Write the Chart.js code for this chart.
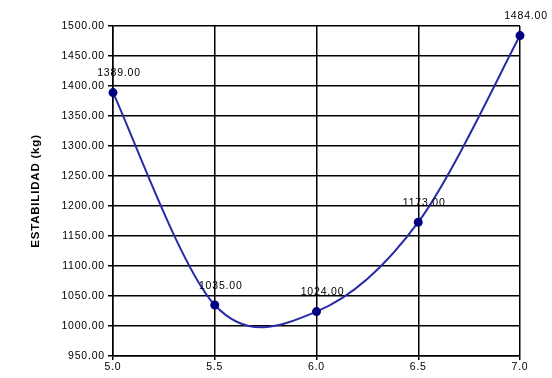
<!DOCTYPE html>
<html>
<head>
<meta charset="utf-8">
<script src="https://cdn.jsdelivr.net/npm/chart.js@4"></script>
<style>
  html, body { margin: 0; padding: 0; background: #fff; }
  #wrap { width: 552px; height: 378px; }
</style>
</head>
<body>
<div id="wrap"><canvas id="chart" width="552" height="378"></canvas></div>
<script>
// datos
const asfalto = [5.0, 5.5, 6.0, 6.5, 7.0];
const estabilidad = [1389, 1035, 1024, 1173, 1484];
const yTitulo = "ESTABILIDAD (kg)";

const fuente = "'Liberation Sans', Arial, sans-serif";

// curva suavizada tipo Excel (Catmull-Rom) sobre los puntos ya ubicados por las escalas
const suavizado = {
  id: "suavizado",
  beforeDraw(chart) {
    // el texto del original sale algo espaciado
    chart.ctx.letterSpacing = "0.8px";
  },
  beforeDatasetDraw(chart, args) {
    const meta = args.meta;
    meta.dataset.updateControlPoints(chart.chartArea);
    const pts = meta.data;
    const n = pts.length;
    for (let i = 0; i < n; i++) {
      const prev = pts[Math.max(i - 1, 0)];
      const next = pts[Math.min(i + 1, n - 1)];
      const dx = (next.x - prev.x) / 6;
      const dy = (next.y - prev.y) / 6;
      pts[i].cp1x = pts[i].x - dx;
      pts[i].cp1y = pts[i].y - dy;
      pts[i].cp2x = pts[i].x + dx;
      pts[i].cp2y = pts[i].y + dy;
    }
  }
};

// etiquetas encima de cada punto
const etiquetas = {
  id: "etiquetas",
  afterDatasetsDraw(chart) {
    const ctx = chart.ctx;
    const meta = chart.getDatasetMeta(0);
    ctx.save();
    ctx.font = "10.5px " + fuente;
    ctx.fillStyle = "#000";
    ctx.textAlign = "center";
    ctx.textBaseline = "middle";
    meta.data.forEach((p, i) => {
      ctx.fillText(estabilidad[i].toFixed(2), p.x + 6, p.y - 19);
    });
    ctx.restore();
  }
};

const ctx = document.getElementById("chart").getContext("2d");
new Chart(ctx, {
  type: "line",
  data: {
    datasets: [{
      data: asfalto.map((x, i) => ({ x: x, y: estabilidad[i] })),
      borderColor: "#2a2aa8",
      borderWidth: 2,
      pointBackgroundColor: "#000080",
      pointBorderColor: "#000080",
      pointRadius: 3.5,
      tension: 0.4,
      capBezierPoints: false,
      clip: false
    }]
  },
  options: {
    responsive: false,
    animation: false,
    layout: { padding: { top: 26, right: 32, left: 0, bottom: 0 } },
    plugins: { legend: { display: false }, tooltip: { enabled: false } },
    scales: {
      x: {
        type: "linear",
        min: 5.0,
        max: 7.0,
        afterFit(scale) { scale.height = 22; },
        ticks: {
          stepSize: 0.5,
          padding: 1,
          color: "#000",
          font: { family: fuente, size: 10.5 },
          callback: v => Number(v).toFixed(1)
        },
        grid: { color: "#000", lineWidth: 1.5, tickLength: 4 },
        border: { color: "#000", width: 1.5 }
      },
      y: {
        min: 950,
        max: 1500,
        afterFit(scale) { scale.width = 113; },
        ticks: {
          stepSize: 50,
          padding: 3,
          color: "#000",
          font: { family: fuente, size: 10.5 },
          callback: v => Number(v).toFixed(2)
        },
        grid: { color: "#000", lineWidth: 1.5, tickLength: 5 },
        border: { color: "#000", width: 1.5 },
        title: {
          display: true,
          text: yTitulo,
          color: "#000",
          font: { family: fuente, size: 11.5, weight: "bold" },
          padding: { top: 29, bottom: 0 }
        }
      }
    }
  },
  plugins: [suavizado, etiquetas]
});
</script>
</body>
</html>
